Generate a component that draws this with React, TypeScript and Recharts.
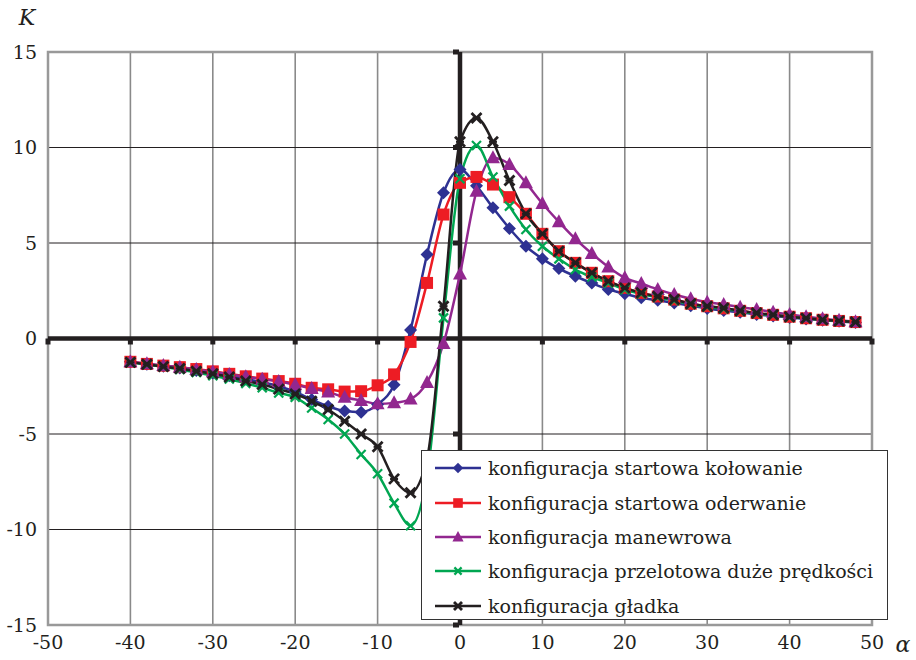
import {
  LineChart,
  Line,
  XAxis,
  YAxis,
  CartesianGrid,
  ReferenceLine,
  ReferenceArea,
  ReferenceDot,
  Legend,
} from "recharts";

const alpha = [
  -40, -38, -36, -34, -32, -30, -28, -26, -24, -22, -20, -18, -16, -14, -12, -10, -8, -6, -4, -2,
  0, 2, 4, 6, 8, 10, 12, 14, 16, 18, 20, 22, 24, 26, 28, 30, 32, 34, 36, 38, 40, 42, 44, 46, 48,
];

const kolowanie = [
  -1.22, -1.35, -1.45, -1.55, -1.68, -1.8, -1.95, -2.12, -2.3, -2.5, -2.8, -3.2, -3.55, -3.8, -3.86,
  -3.45, -2.42, 0.45, 4.4, 7.63, 8.85, 8.0, 6.84, 5.76, 4.83, 4.17, 3.66, 3.26, 2.9, 2.57, 2.34,
  2.13, 2.0, 1.86, 1.72, 1.57, 1.46, 1.37, 1.26, 1.18, 1.1, 1.02, 0.96, 0.9, 0.84,
];

const oderwanie = [
  -1.22, -1.33, -1.42, -1.5, -1.6, -1.72, -1.85, -1.98, -2.1, -2.23, -2.37, -2.58, -2.66, -2.78,
  -2.76, -2.45, -1.88, -0.18, 2.91, 6.49, 8.15, 8.46, 8.06, 7.4, 6.53, 5.48, 4.57, 3.96, 3.44, 3.0,
  2.65, 2.39, 2.2, 2.04, 1.82, 1.69, 1.58, 1.45, 1.33, 1.24, 1.14, 1.06, 0.98, 0.92, 0.86,
];

const manewrowa = [
  -1.22, -1.32, -1.42, -1.5, -1.62, -1.74, -1.88, -2.0, -2.13, -2.25, -2.42, -2.62, -2.8, -3.08,
  -3.25, -3.42, -3.37, -3.17, -2.3, -0.26, 3.38, 7.71, 9.46, 9.11, 8.15, 7.07, 6.11, 5.22, 4.45,
  3.75, 3.18, 2.88, 2.57, 2.3, 2.08, 1.9, 1.78, 1.64, 1.52, 1.38, 1.26, 1.14, 1.03, 0.95, 0.88,
];

const przelotowa = [
  -1.25, -1.37, -1.48, -1.62, -1.78, -1.95, -2.12, -2.35, -2.58, -2.85, -3.08, -3.64, -4.24, -5.0,
  -6.07, -7.08, -8.62, -9.8, -7.2, 1.08, 8.36, 10.1, 8.46, 6.93, 5.71, 4.83, 4.17, 3.61, 3.22, 2.9,
  2.56, 2.33, 2.15, 1.98, 1.78, 1.65, 1.55, 1.42, 1.3, 1.22, 1.12, 1.05, 0.98, 0.92, 0.86,
];

const gladka = [
  -1.25, -1.35, -1.47, -1.57, -1.71, -1.85, -2.02, -2.22, -2.41, -2.65, -2.9, -3.28, -3.72, -4.33,
  -5.0, -5.67, -7.35, -8.08, -6.3, 1.69, 10.3, 11.55, 10.3, 8.27, 6.53, 5.48, 4.57, 3.96, 3.44, 3.0,
  2.65, 2.39, 2.2, 2.04, 1.82, 1.69, 1.6, 1.45, 1.33, 1.24, 1.14, 1.06, 0.98, 0.92, 0.86,
];

const xTicks = [-50, -40, -30, -20, -10, 0, 10, 20, 30, 40, 50];
const yTicks = [-15, -10, -5, 0, 5, 10, 15];

const data = alpha.map((a, i) => ({
  alpha: a,
  kolowanie: kolowanie[i],
  oderwanie: oderwanie[i],
  manewrowa: manewrowa[i],
  przelotowa: przelotowa[i],
  gladka: gladka[i],
}));

const FONT = "DejaVu Serif, Liberation Serif, Times New Roman, serif";
const TEXT = "#231f20";

type Marker = "diamond" | "square" | "triangle" | "cross" | "star";

const series: { key: string; name: string; color: string; marker: Marker }[] = [
  { key: "kolowanie", name: "konfiguracja startowa kołowanie", color: "#2e3192", marker: "diamond" },
  { key: "oderwanie", name: "konfiguracja startowa oderwanie", color: "#ed1c24", marker: "square" },
  { key: "manewrowa", name: "konfiguracja manewrowa", color: "#92278f", marker: "triangle" },
  { key: "przelotowa", name: "konfiguracja przelotowa duże prędkości", color: "#00a651", marker: "cross" },
  { key: "gladka", name: "konfiguracja gładka", color: "#231f20", marker: "star" },
];

function MarkerShape({ cx, cy, color, marker, scale = 1 }: { cx: number; cy: number; color: string; marker: Marker; scale?: number }) {
  const s = scale;
  switch (marker) {
    case "diamond":
      return (
        <polygon
          points={`${cx},${cy - 6.5 * s} ${cx + 6.5 * s},${cy} ${cx},${cy + 6.5 * s} ${cx - 6.5 * s},${cy}`}
          fill={color}
        />
      );
    case "square":
      return <rect x={cx - 6 * s} y={cy - 6 * s} width={12 * s} height={12 * s} fill={color} />;
    case "triangle":
      return (
        <polygon
          points={`${cx},${cy - 7.5 * s} ${cx + 7 * s},${cy + 5.5 * s} ${cx - 7 * s},${cy + 5.5 * s}`}
          fill={color}
        />
      );
    case "cross":
      return (
        <g stroke={color} strokeWidth={2.2}>
          <line x1={cx - 4.5 * s} y1={cy - 4.5 * s} x2={cx + 4.5 * s} y2={cy + 4.5 * s} />
          <line x1={cx - 4.5 * s} y1={cy + 4.5 * s} x2={cx + 4.5 * s} y2={cy - 4.5 * s} />
        </g>
      );
    default:
      return (
        <g stroke={color} strokeWidth={2.8}>
          <line x1={cx - 5 * s} y1={cy - 5 * s} x2={cx + 5 * s} y2={cy + 5 * s} />
          <line x1={cx - 5 * s} y1={cy + 5 * s} x2={cx + 5 * s} y2={cy - 5 * s} />
          <line x1={cx - 4 * s} y1={cy} x2={cx + 4 * s} y2={cy} strokeWidth={2.2} />
        </g>
      );
  }
}

function LegendBox() {
  return (
    <div
      style={{
        background: "#fff",
        border: "1px solid #333",
        padding: "0 0 0 12px",
        boxSizing: "border-box",
        width: 467,
        height: 170,
        fontFamily: FONT,
        fontSize: 19,
        color: TEXT,
      }}
    >
      {series.map((s) => (
        <div key={s.key} style={{ display: "flex", alignItems: "center", height: 34.4 }}>
          <svg width={48} height={20} style={{ marginRight: 6, flexShrink: 0 }}>
            <line x1={1} y1={10} x2={47} y2={10} stroke={s.color} strokeWidth={2.5} />
            <MarkerShape cx={24} cy={10} color={s.color} marker={s.marker} scale={0.8} />
          </svg>
          <span style={{ whiteSpace: "nowrap" }}>{s.name}</span>
        </div>
      ))}
    </div>
  );
}

const axisTick = { fontSize: 19, fill: TEXT, fontFamily: FONT };

export default function App() {
  return (
    <div style={{ position: "absolute", left: 0, top: 0, background: "#fff" }}>
      <LineChart width={916} height={660} data={data} margin={{ top: 52, right: 44, bottom: 0, left: 0 }}>
        <CartesianGrid horizontal={false} stroke="#8a8a8a" strokeWidth={1.6} />
        <CartesianGrid vertical={false} stroke="#231f20" strokeWidth={1} />
        <ReferenceArea x1={-50} x2={50} y1={-15} y2={15} fill="none" stroke="#999" strokeWidth={2.5} />
        <XAxis
          dataKey="alpha"
          type="number"
          domain={[-50, 50]}
          ticks={xTicks}
          interval={0}
          height={35}
          tickLine={false}
          axisLine={false}
          tickSize={0}
          tickMargin={11}
          tick={axisTick}
          label={({ viewBox }: any) => (
            <text
              x={viewBox.x + viewBox.width + 31}
              y={viewBox.y + 27}
              fontFamily={FONT}
              fontStyle="italic"
              fontSize={22}
              fill={TEXT}
              textAnchor="middle"
            >
              α
            </text>
          )}
        />
        <YAxis
          type="number"
          domain={[-15, 15]}
          ticks={yTicks}
          interval={0}
          width={48}
          tickLine={false}
          axisLine={false}
          tickSize={0}
          tickMargin={11}
          tick={axisTick}
          label={({ viewBox }: any) => (
            <text
              x={viewBox.x + 27}
              y={viewBox.y - 27}
              fontFamily={FONT}
              fontStyle="italic"
              fontSize={22}
              fill={TEXT}
              textAnchor="middle"
            >
              K
            </text>
          )}
        />
        <ReferenceLine y={0} stroke="#231f20" strokeWidth={4.5} />
        <ReferenceLine x={0} stroke="#231f20" strokeWidth={4.5} />
        {xTicks
          .filter((t) => t !== 0)
          .map((t) => (
            <ReferenceDot
              key={`xt${t}`}
              x={t}
              y={0}
              shape={(p: any) => <rect x={p.cx - 2.5} y={p.cy} width={5} height={6} fill="#231f20" />}
            />
          ))}
        {yTicks
          .filter((t) => t !== 0)
          .map((t) => (
            <ReferenceDot
              key={`yt${t}`}
              x={0}
              y={t}
              shape={(p: any) => <rect x={p.cx - 7} y={p.cy - 2.5} width={6} height={5} fill="#231f20" />}
            />
          ))}
        {series.map((s) => (
          <Line
            key={s.key}
            type="monotone"
            dataKey={s.key}
            name={s.name}
            stroke={s.color}
            strokeWidth={2.5}
            isAnimationActive={false}
            dot={(p: any) => (
              <MarkerShape key={`${s.key}-${p.index}`} cx={p.cx} cy={p.cy} color={s.color} marker={s.marker} />
            )}
            activeDot={false}
          />
        ))}
        <Legend
          layout="vertical"
          align="center"
          verticalAlign="middle"
          content={() => <LegendBox />}
          wrapperStyle={{ left: 421, top: 450, width: 467, height: 170 }}
        />
      </LineChart>
    </div>
  );
}
